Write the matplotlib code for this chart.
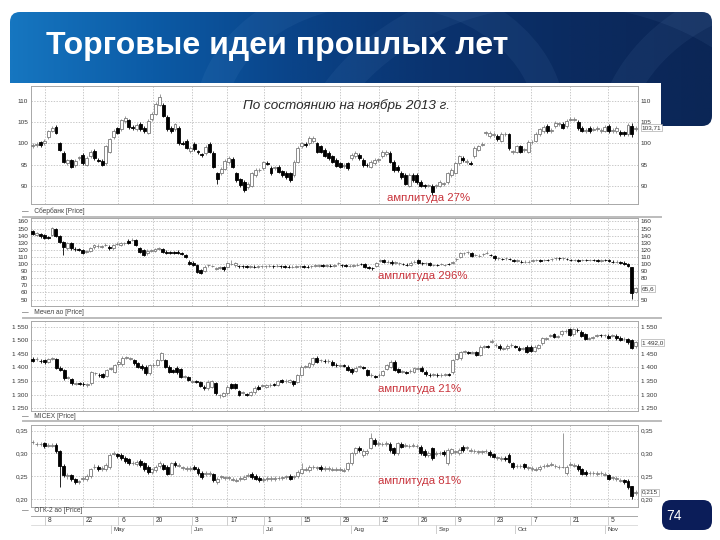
import numpy as np
import matplotlib
matplotlib.use('Agg')
import matplotlib.pyplot as plt
from matplotlib.colors import LinearSegmentedColormap
from matplotlib.patches import FancyBboxPatch, Ellipse, Rectangle
from matplotlib.lines import Line2D
from matplotlib.transforms import blended_transform_factory

plt.rcParams['font.family'] = ['Liberation Sans', 'DejaVu Sans']

# daily candles: (open, close) or (open, close, high, low)
sber = [
    (99.3, 99.7), (99.5, 99.9), (100.2, 99.6), (100.0, 100.6), (101.5, 102.8), (103.0, 103.6), (103.8, 102.5), (100.0, 98.5), (97.7, 95.7), (95.4, 96.0),
    (96.0, 94.5), (94.8, 95.8), (96.5, 96.7), (97.3, 95.3), (95.0, 96.6), (97.0, 98.0), (98.2, 96.5), (96.1, 95.9), (95.8, 95.0), (95.3, 99.3),
    (98.0, 100.9), (101.4, 102.9), (103.5, 102.5), (103.3, 105.4), (105.3, 106.0), (105.4, 103.8), (103.8, 103.6), (103.3, 104.3), (104.6, 103.3), (103.7, 102.9),
    (102.5, 105.3), (105.7, 106.9), (107.0, 109.3), (109.1, 110.9, 111.6, 108.8), (109.1, 106.5), (106.2, 103.3), (103.6, 102.9), (103.3, 104.5), (103.7, 100.0), (100.1, 99.9),
    (100.5, 99.0), (98.1, 99.0), (99.8, 98.7), (98.1, 97.9), (97.4, 97.2), (97.6, 99.2), (99.8, 98.0), (97.7, 94.5), (92.9, 91.7, 93.2, 90.5), (92.9, 94.0),
    (94.0, 95.8), (95.5, 96.5), (96.3, 94.5), (92.9, 91.3),
    (91.5, 90.2), (90.9, 88.9), (89.7, 90.5), (90.0, 92.9), (92.5, 93.7), (93.6, 93.8), (94.2, 95.5), (95.4, 95.2), (94.2, 92.9), (94.1, 94.3),
    (94.5, 93.3), (93.4, 92.5), (93.1, 92.1), (92.9, 91.3), (92.5, 95.7), (95.7, 98.9), (99.3, 100.0), (99.8, 99.6), (100.0, 101.3), (100.5, 101.3),
    (100.0, 98.0), (99.3, 98.0), (98.5, 97.1), (97.7, 96.5), (96.9, 95.7), (96.1, 94.7), (95.3, 94.5), (94.6, 94.9), (95.3, 94.2), (96.5, 97.3),
    (97.0, 97.7), (97.3, 96.5), (96.1, 94.9), (95.0, 94.8), (94.5, 95.7), (95.3, 96.1), (96.0, 96.2), (96.9, 98.0), (97.5, 98.0), (97.7, 95.7),
    (95.7, 93.7), (94.5, 93.7), (93.1, 92.1), (92.5, 90.5), (90.0, 92.5), (92.5, 91.3), (92.5, 90.9), (90.9, 90.0), (90.1, 89.9), (90.0, 90.1),
    (90.0, 88.6, 90.3, 87.9), (89.9, 90.1), (90.0, 90.9), (90.4, 90.6), (90.9, 92.9), (92.5, 93.7), (93.1, 95.3), (95.3, 96.9), (96.6, 96.1), (95.5, 95.9),
    (95.4, 95.2), (96.9, 98.9), (98.5, 99.3),
    (99.7, 99.9), (102.4, 102.6), (101.7, 102.5), (102.0, 102.2), (101.7, 100.9), (100.6, 102.2), (102.1, 102.3), (102.1, 98.9), (97.9, 98.1), (98.0, 99.3),
    (99.3, 98.0), (98.4, 98.6), (98.0, 100.3), (100.2, 100.4), (100.6, 102.2), (102.1, 103.3), (102.9, 103.8), (104.1, 102.9), (102.9, 103.1), (104.1, 104.9),
    (104.5, 104.7), (104.6, 103.7), (104.1, 105.3), (105.6, 105.8), (105.6, 105.8), (105.1, 103.5), (103.7, 103.0), (102.9, 103.1), (103.7, 102.9), (103.2, 103.4),
    (103.4, 103.6), (102.9, 103.1), (103.0, 103.8), (104.1, 102.9), (102.9, 103.1), (102.9, 103.7), (102.7, 102.1), (102.6, 102.1), (102.1, 104.3), (104.1, 102.1, 104.9, 101.4),
    (103.3, 103.71),
]

mechel = [
    (146, 142), (141, 143), (142.5, 139), (141, 136.5), (137.5, 136.5), (141, 150.5), (149, 139.7), (138.8, 131.7), (131.7, 124.6, 132.5, 113), (122, 129),
    (129, 122), (121.5, 120.8), (120.5, 119.8), (120, 115.5), (117, 118), (119, 122), (123.6, 127), (125, 125.8), (124, 125.5), (126.6, 127.3),
    (124.6, 122.2), (122, 127), (128, 128.7), (127, 129.3), (129, 129.6), (133, 129.3), (133.6, 134.3), (134, 127), (122.2, 117.5), (120, 113),
    (115, 119), (118.6, 119.3), (119, 121), (121.6, 122.3), (121, 117.5), (117.5, 115.5), (116.3, 115.8), (116.3, 115.8), (117.5, 115.5), (115.3, 114.8),
    (112.8, 110.4), (103.3, 100), (102, 98.6), (98.6, 89), (91.5, 87.8), (90, 96.2), (98.3, 98.9), (97, 97.5), (93.5, 94.5), (95, 95.6),
    (95.3, 92.5), (96.2, 101), (99.7, 100.3, 106, 98), (98, 101),
    (97.3, 96.8), (97.2, 96.8), (96.8, 96.3), (96.3, 96.7), (96.3, 95.8), (96.2, 96.7), (96.8, 97.2), (96.8, 97.2), (97.3, 97.7), (97.2, 96.8),
    (97.3, 97.7), (97.2, 96.8), (96.7, 96.3), (96.2, 95.8), (95.8, 96.2), (96.3, 96.7), (96.8, 97.2), (96.7, 96.3), (96.2, 95.8), (96.8, 97.3),
    (97.8, 98.2), (97.8, 98.2), (98.2, 97.8), (97.8, 98.2), (97.7, 97.3), (97.8, 98.3), (100.8, 101.3), (98.7, 98.3), (98.2, 97.8), (97.3, 97.7),
    (97.8, 98.3), (98.8, 99.3), (100.2, 99.8),
    (100, 96.2), (95.5, 95.1), (94.2, 93.8), (97, 101), (104.6, 105.0), (105.7, 103), (103.1, 103.5), (103.3, 101), (101.8, 102.2), (100.8, 101.2),
    (100.2, 99.8), (99.2, 98.8), (99, 102), (103.1, 103.5), (105.7, 102), (101.2, 100.8), (100.8, 101.2), (101, 98.6), (98.4, 98.8), (98.8, 98.4),
    (99.8, 100.2), (98.4, 98.8), (100.2, 99.8), (101.8, 102.2), (106.4, 106.8), (110.4, 115), (114.9, 115.3), (116.4, 116.8), (115, 111.4), (112.6, 113.0),
    (111.6, 112.0), (113.5, 113.9), (115.8, 116.2), (113.0, 112.6), (111.4, 108), (107.8, 108.2), (107.2, 106.8), (107.8, 108.2), (107.2, 106.8), (105.0, 104.6),
    (104.6, 105.0), (103.5, 103.1), (102.8, 103.2), (103.1, 103.5), (104.6, 105.0), (105.5, 105.9), (105.0, 104.6), (105.5, 105.9), (105.9, 105.5), (106.4, 106.8),
    (107.8, 108.2), (108.2, 107.8), (107.8, 108.2), (107.2, 106.8), (105.9, 105.5), (105.5, 105.9), (105.0, 104.6), (105.5, 105.9), (105.9, 105.5), (105.5, 105.9),
    (105.9, 105.5), (105.0, 104.6), (104.6, 105.0), (105.9, 105.5), (105.0, 104.6), (103.5, 103.1), (103.1, 103.5), (102.2, 101.8), (102, 100), (100, 97.2),
    (96.2, 58.5, 96.5, 51.4), (60.5, 65.6, 67, 59),
]

micex = [
    (1433, 1424), (1430, 1432), (1425, 1423), (1427, 1419), (1421, 1431), (1433, 1435), (1431, 1399), (1399, 1391), (1391, 1360), (1362, 1364),
    (1358, 1342), (1341, 1343), (1343, 1341), (1340, 1338), (1334, 1338), (1342, 1382), (1378, 1380), (1373, 1371), (1375, 1366), (1369, 1391),
    (1396, 1398), (1385, 1409), (1412, 1421), (1412, 1436), (1435, 1437), (1433, 1435), (1427, 1415), (1415, 1403), (1407, 1397), (1403, 1379),
    (1379, 1409), (1408, 1410), (1409, 1427), (1427, 1452, 1456, 1425), (1427, 1403), (1403, 1385), (1391, 1385), (1399, 1382), (1394, 1366), (1365, 1367),
    (1364, 1354), (1347, 1349), (1349, 1347), (1345, 1333), (1330, 1323), (1323, 1348), (1328, 1350), (1342, 1305), (1298, 1300, 1302, 1288), (1295, 1305),
    (1305, 1330), (1338, 1326), (1338, 1326), (1314, 1299), (1308, 1310), (1302, 1300), (1299, 1309), (1309, 1326), (1330, 1321), (1332, 1334),
    (1330, 1336), (1335, 1337), (1339, 1337), (1336, 1350), (1354, 1348), (1349, 1351), (1348, 1354), (1350, 1338), (1348, 1372), (1372, 1403),
    (1402, 1404), (1403, 1415), (1412, 1434), (1436, 1421), (1426, 1428), (1425, 1423), (1423, 1425), (1421, 1409), (1410, 1408), (1406, 1408),
    (1408, 1406), (1403, 1391), (1394, 1382), (1387, 1399), (1402, 1404), (1400, 1398),
    (1391, 1372), (1371, 1373), (1367, 1365), (1371, 1373), (1372, 1387), (1394, 1409), (1403, 1421), (1421, 1391), (1394, 1385), (1384, 1386),
    (1383, 1381), (1386, 1388), (1385, 1397), (1396, 1398), (1399, 1387), (1385, 1375), (1373, 1371), (1374, 1376), (1373, 1371), (1371, 1373),
    (1374, 1376), (1376, 1374), (1382, 1427), (1431, 1448), (1434, 1456), (1457, 1459), (1457, 1455), (1455, 1457), (1456, 1446), (1446, 1477),
    (1476, 1478), (1478, 1476), (1494, 1496, 1506, 1490), (1482, 1484), (1480, 1470), (1469, 1471), (1470, 1480), (1482, 1484), (1478, 1476), (1473, 1464),
    (1469, 1471), (1477, 1458), (1477, 1461), (1461, 1477), (1473, 1483), (1489, 1507), (1506, 1508), (1516, 1518), (1522, 1513), (1512, 1514),
    (1522, 1534), (1533, 1535), (1541, 1519), (1522, 1541), (1539, 1537), (1532, 1517), (1522, 1505), (1506, 1508), (1509, 1511), (1516, 1518),
    (1520, 1518), (1518, 1520), (1517, 1510), (1516, 1518), (1517, 1507), (1510, 1501), (1504, 1506), (1505, 1492), (1501, 1472), (1478, 1492),
]

ogk = [
    (0.325, 0.326), (0.320, 0.321), (0.320, 0.321), (0.322, 0.316), (0.3175, 0.3185), (0.3175, 0.3185), (0.318, 0.306), (0.306, 0.272, 0.307, 0.226), (0.272, 0.252), (0.2515, 0.2525, 0.258, 0.245),
    (0.252, 0.243), (0.243, 0.238), (0.2375, 0.2385), (0.2445, 0.2455), (0.243, 0.250), (0.250, 0.265), (0.2695, 0.2705, 0.276, 0.266), (0.270, 0.265), (0.2665, 0.2675), (0.265, 0.274),
    (0.270, 0.296), (0.2995, 0.3005, 0.306, 0.296), (0.298, 0.294), (0.296, 0.289), (0.291, 0.284), (0.287, 0.278), (0.2785, 0.2795), (0.277, 0.282), (0.284, 0.274), (0.278, 0.265),
    (0.270, 0.260), (0.260, 0.265), (0.263, 0.270), (0.272, 0.279), (0.274, 0.267), (0.270, 0.256), (0.256, 0.278), (0.279, 0.274), (0.2735, 0.2745), (0.2685, 0.2695),
    (0.2665, 0.2675), (0.2665, 0.2675), (0.270, 0.267), (0.267, 0.257), (0.257, 0.249), (0.2555, 0.2565), (0.2555, 0.2565), (0.254, 0.241), (0.238, 0.245), (0.2485, 0.2495),
    (0.2465, 0.2475), (0.2465, 0.2475), (0.2425, 0.2435), (0.2405, 0.2415), (0.2445, 0.2455), (0.245, 0.249), (0.2515, 0.2525), (0.256, 0.249), (0.250, 0.245), (0.247, 0.241),
    (0.241, 0.245), (0.2445, 0.2455), (0.2445, 0.2455), (0.2445, 0.2455), (0.2455, 0.2465), (0.2465, 0.2475), (0.2485, 0.2495), (0.250, 0.245), (0.2485, 0.2495), (0.250, 0.260),
    (0.257, 0.265, 0.278, 0.255), (0.2645, 0.2655), (0.263, 0.270), (0.2695, 0.2705), (0.2685, 0.2695), (0.270, 0.265), (0.2665, 0.2675), (0.2665, 0.2675), (0.2645, 0.2655), (0.2645, 0.2655),
    (0.2645, 0.2655), (0.2625, 0.2635), (0.265, 0.278), (0.278, 0.300), (0.300, 0.311), (0.313, 0.307),
    (0.296, 0.305), (0.300, 0.306), (0.311, 0.333, 0.344, 0.310), (0.329, 0.320), (0.3215, 0.3225), (0.3205, 0.3215), (0.3215, 0.3225), (0.321, 0.307), (0.311, 0.300), (0.300, 0.322),
    (0.321, 0.315), (0.3175, 0.3185), (0.3155, 0.3165), (0.3175, 0.3185), (0.3155, 0.3165), (0.315, 0.300), (0.306, 0.296), (0.296, 0.302), (0.311, 0.289), (0.2995, 0.3005),
    (0.3005, 0.3015), (0.304, 0.298), (0.278, 0.307), (0.300, 0.309), (0.3035, 0.3045), (0.301, 0.307), (0.315, 0.307), (0.3125, 0.3135), (0.3065, 0.3075), (0.3055, 0.3065),
    (0.3035, 0.3045), (0.3035, 0.3045), (0.3055, 0.3065), (0.304, 0.296), (0.298, 0.293), (0.2905, 0.2915), (0.2885, 0.2895), (0.291, 0.287), (0.296, 0.282), (0.278, 0.270),
    (0.2715, 0.2725), (0.2715, 0.2725), (0.276, 0.270), (0.2685, 0.2695), (0.2665, 0.2675), (0.2645, 0.2655), (0.265, 0.270), (0.2715, 0.2725), (0.2735, 0.2745), (0.2755, 0.2765),
    (0.2715, 0.2725), (0.2695, 0.2705), (0.2695, 0.2705, 0.346, 0.268), (0.257, 0.270), (0.2755, 0.2765), (0.2735, 0.2745), (0.272, 0.265), (0.265, 0.256), (0.260, 0.254), (0.2565, 0.2575),
    (0.2565, 0.2575), (0.2555, 0.2565), (0.2565, 0.2575), (0.2535, 0.2545), (0.252, 0.245), (0.2465, 0.2475), (0.2445, 0.2455), (0.2405, 0.2415), (0.241, 0.237), (0.240, 0.226),
    (0.228, 0.206, 0.229, 0.201), (0.213, 0.215),
]

sber_ticks = [90, 95, 100, 105, 110]
mechel_ticks = [50, 60, 70, 80, 90, 100, 110, 120, 130, 140, 150, 160]
micex_ticks = [1250, 1300, 1350, 1400, 1450, 1500, 1550]
ogk_ticks = [0.20, 0.25, 0.30, 0.35]

date_ticks = [3, 13, 22, 31, 41, 50, 59.5, 69, 79, 89, 99, 108.5, 118.5, 128, 138, 148]
date_labels = ['8', '22', '6', '20', '3', '17', '1', '15', '29', '12', '26', '9', '23', '7', '21', '5']
month_starts = [20, 40.6, 59.1, 81.7, 103.6, 124, 147]
month_labels = ['May', 'Jun', 'Jul', 'Aug', 'Sep', 'Oct', 'Nov']

W, H = 720, 540
LAST = 155
XLIM = (-0.5, 155.6)
GRID = '#b4b4b4'


def box(x0, y0, x1, y1):
    return [x0 / W, 1 - y1 / H, (x1 - x0) / W, (y1 - y0) / H]


def fx(x):
    return x / W


def fy(y):
    return 1 - y / H


def draw_candles(ax, rows, wick):
    x = np.linspace(0, LAST, len(rows))
    o = np.array([r[0] for r in rows])
    c = np.array([r[1] for r in rows])
    lo = np.minimum(o, c)
    hi = np.maximum(o, c)
    h = np.array([r[2] if len(r) > 2 else max(r[0], r[1]) + wick for r in rows])
    l = np.array([r[3] if len(r) > 3 else min(r[0], r[1]) - wick for r in rows])
    up = c >= o
    ax.vlines(x[up], l[up], h[up], color='#8a8a8a', lw=0.6, zorder=2)
    ax.vlines(x[~up], l[~up], h[~up], color='black', lw=0.6, zorder=2)
    ax.bar(x[up], hi[up] - lo[up], bottom=lo[up], width=0.75,
           facecolor='white', edgecolor='#7a7a7a', lw=0.6, zorder=3)
    ax.bar(x[~up], hi[~up] - lo[~up], bottom=lo[~up], width=0.75,
           facecolor='black', edgecolor='black', lw=0.6, zorder=3)
    return c[-1]


panels = [
    dict(rows=sber, top=86, bottom=204, ylim=(85.7, 113.5), ticks=sber_ticks,
         fmt=lambda t: f'{t:g}', name='Сбербанк [Price]', name_y=211, wick=0.4,
         note='амплитуда 27%', note_xy=(387, 198), last_fmt=lambda v: f'{v:.2f}'.replace('.', ',')),
    dict(rows=mechel, top=218, bottom=306, ylim=(40.9, 164.8), ticks=mechel_ticks,
         fmt=lambda t: f'{t:g}', name='Мечел ао [Price]', name_y=313, wick=1.8,
         note='амплитуда 296%', note_xy=(378, 276), last_fmt=lambda v: f'{v:.1f}'.replace('.', ',')),
    dict(rows=micex, top=321, bottom=411, ylim=(1240, 1571), ticks=micex_ticks,
         fmt=lambda t: f'{t:,}'.replace(',', ' '), name='MICEX [Price]', name_y=416, wick=5,
         note='амплитуда 21%', note_xy=(378, 389), last_fmt=lambda v: f'{v:,.1f}'.replace(',', ' ').replace('.', ',')),
    dict(rows=ogk, top=425, bottom=507, ylim=(0.1824, 0.3626), ticks=ogk_ticks,
         fmt=lambda t: f'{t:.2f}'.replace('.', ','), name='ОГК-2 ао [Price]', name_y=510, wick=0.004,
         note='амплитуда 81%', note_xy=(378, 481), last_fmt=lambda v: f'{v:.3f}'.replace('.', ',')),
]

fig = plt.figure(figsize=(7.2, 5.4), dpi=100)
fig.patch.set_facecolor('white')

# slide background in pixel coordinates
bg = fig.add_axes([0, 0, 1, 1], zorder=0)
bg.axis('off')

hdr_cmap = LinearSegmentedColormap.from_list(
    'hdr', ['#1676c0', '#0c5ba6', '#0a4489', '#0a336f', '#0b2b60', '#0b2656'])
im = bg.imshow(np.linspace(0, 1, 400)[None, :], extent=(10, 712, 126, 12), cmap=hdr_cmap,
               aspect='auto', zorder=2, interpolation='bilinear')
hdr = FancyBboxPatch((10, 12), 702, 114, boxstyle='round,pad=0,rounding_size=10',
                     facecolor='none', edgecolor='none', zorder=2)
bg.add_patch(hdr)
im.set_clip_path(hdr)
for cx, cy, w, h in [(560, 200, 520, 420), (380, 120, 340, 260), (820, 150, 420, 330)]:
    arc = Ellipse((cx, cy), w, h, facecolor='none', edgecolor='#9fd0ff', lw=22, alpha=0.06, zorder=3)
    bg.add_patch(arc)
    arc.set_clip_path(hdr)

# white chart sheet over the lower part of the header
bg.add_patch(Rectangle((0, 83), 661, 460, facecolor='white', edgecolor='none', zorder=4))

page = FancyBboxPatch((662, 500), 50, 30, boxstyle='round,pad=0,rounding_size=9',
                      facecolor='#0b1d59', edgecolor='none', zorder=4)
bg.add_patch(page)
bg.text(666, 516, '74', color='white', fontsize=10, va='center', ha='left', zorder=5)
bg.set_xlim(0, W)
bg.set_ylim(H, 0)

fig.text(fx(46), fy(46), 'Торговые идеи прошлых лет', color='white', fontsize=23,
         fontweight='bold', va='center', ha='left')

for p in panels:
    ax = fig.add_axes(box(31, p['top'], 638, p['bottom']), zorder=2)
    ax.set_facecolor('white')
    last = draw_candles(ax, p['rows'], p['wick'])
    ax.set_xlim(*XLIM)
    ax.set_ylim(*p['ylim'])
    ax.set_yticks(p['ticks'])
    ax.set_yticklabels([p['fmt'](t) for t in p['ticks']])
    ax.set_xticks(date_ticks)
    ax.set_xticklabels([])
    ax.tick_params(axis='y', labelleft=True, labelright=True, length=0, pad=2,
                   labelsize=4.6, labelcolor='#333333')
    ax.tick_params(axis='x', length=0)
    # right-hand labels hidden under the last-value box, as in the terminal
    px_per_unit = (p['bottom'] - p['top']) / (p['ylim'][1] - p['ylim'][0])
    for t, tk in zip(p['ticks'], ax.yaxis.get_major_ticks()):
        if abs(t - last) * px_per_unit < 5:
            tk.label2.set_visible(False)
    ax.grid(True, color=GRID, lw=0.5, linestyle=(0, (2, 2)))
    ax.set_axisbelow(True)
    for s in ax.spines.values():
        s.set_color('#a8a8a8')
        s.set_linewidth(0.7)
    tr = blended_transform_factory(ax.transAxes, ax.transData)
    ax.text(1.006, last, p['last_fmt'](last), transform=tr, fontsize=4.6, color='#333333',
            va='center', ha='left', zorder=6,
            bbox=dict(boxstyle='square,pad=0.15', facecolor='white', edgecolor='#9a9a9a', lw=0.4))
    fig.text(fx(22), fy(p['name_y']), '—   ' + p['name'], fontsize=4.8, color='#444444',
             va='center', ha='left')
    fig.text(fx(p['note_xy'][0]), fy(p['note_xy'][1]), p['note'], fontsize=8.2,
             color='#c8333b', va='center', ha='left', zorder=5)

fig.text(fx(243), fy(106), 'По состоянию на ноябрь 2013 г.', fontsize=9.7,
         style='italic', color='#2a2a2a', va='center', ha='left')

# separators between panels
for y in [217, 318, 421]:
    fig.add_artist(Line2D([fx(23), fx(661)], [fy(y), fy(y)], color='#bcbcbc', lw=1.4))

# date axis
axd = fig.add_axes(box(31, 516, 638, 534), zorder=2)
axd.set_xlim(*XLIM)
axd.set_ylim(0, 2)
axd.axis('off')
axd.plot(XLIM, [2, 2], color='#a8a8a8', lw=0.7)
axd.plot(XLIM, [1, 1], color='#d0d0d0', lw=0.5)
axd.vlines(date_ticks, 1, 2, color='#bbbbbb', lw=0.5)
for t, lab in zip(date_ticks, date_labels):
    axd.text(t + 0.7, 1.5, lab, fontsize=4.8, color='#333333', va='center', ha='left')
axd.vlines(month_starts, 0, 1, color='#bbbbbb', lw=0.5)
for t, lab in zip(month_starts, month_labels):
    axd.text(t + 0.8, 0.45, lab, fontsize=4.4, color='#333333', va='center', ha='left')

fig.savefig('out.png', dpi=100, facecolor='white')
